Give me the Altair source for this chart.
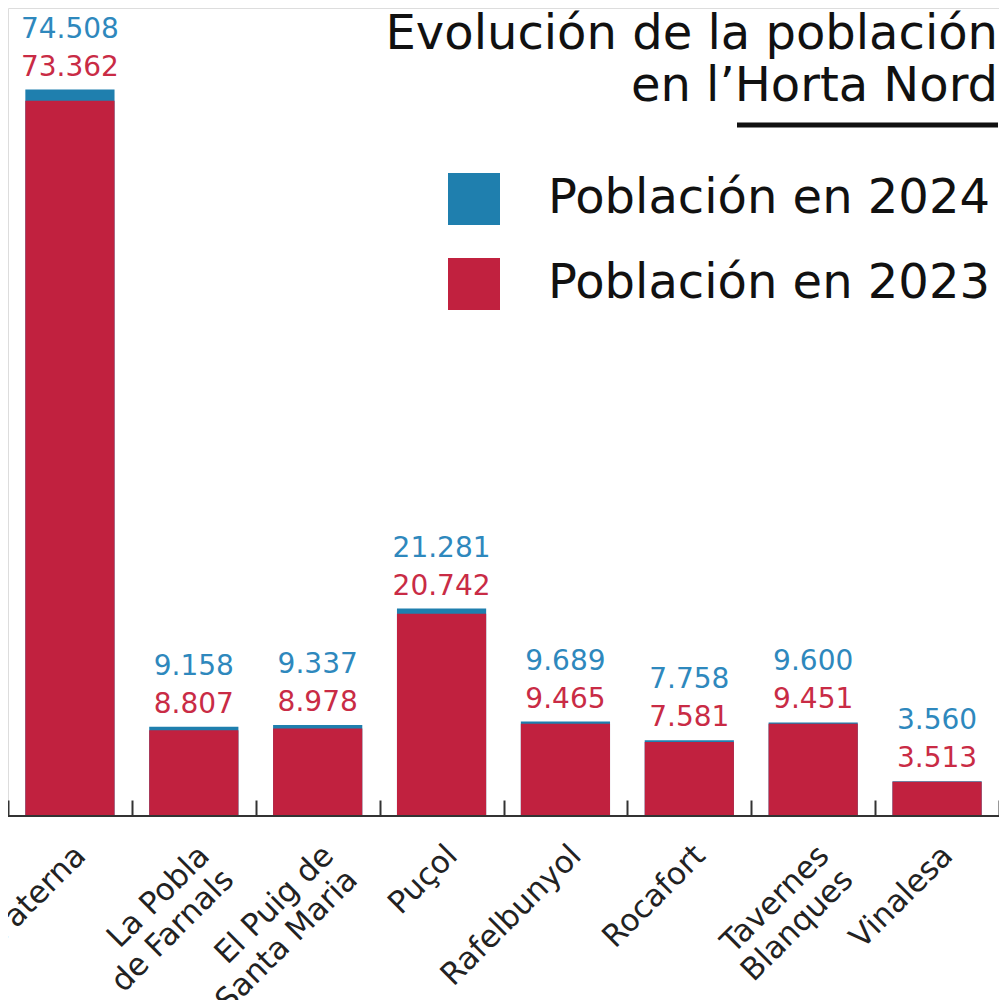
import altair as alt
import pandas as pd

municipios = ["Paterna", "La Pobla\nde Farnals", "El Puig de\nSanta Maria", "Puçol",
              "Rafelbunyol", "Rocafort", "Tavernes\nBlanques", "Vinalesa"]
poblacion_2023 = [73362, 8807, 8978, 20742, 9465, 7581, 9451, 3513]
poblacion_2024 = [74508, 9158, 9337, 21281, 9689, 7758, 9600, 3560]
series = ["Población en 2024", "Población en 2023"]
colores = ["#1f7fae", "#c1213f"]
titulo = ["Evolución de la población", "en l’Horta Nord"]

df = pd.DataFrame({"municipio": municipios, "p2023": poblacion_2023, "p2024": poblacion_2024})

FONT = "DejaVu Sans"

x = alt.X(
    "municipio:N", sort=None,
    scale=alt.Scale(paddingInner=0, paddingOuter=0),
    axis=alt.Axis(
        title=None, labelAngle=-45, labelAlign="right", labelBaseline="top",
        labelExpr="split(datum.label, '\\n')", labelFont=FONT, labelFontSize=31,
        labelLineHeight=34, labelColor="#222", labelPadding=24, labelLimit=400,
        domain=False, ticks=True, tickSize=16, tickWidth=2, tickColor="#333",
        tickBand="extent", offset=-16, zindex=1,
    ),
)
yscale = alt.Scale(domain=[0, 82870], nice=False)

base = alt.Chart(df)

bars = base.transform_fold(["p2024", "p2023"], as_=["serie", "valor"]).transform_calculate(
    nombre="datum.serie == 'p2024' ? 'Población en 2024' : 'Población en 2023'"
).mark_bar(width=alt.RelativeBandSize(0.72)).encode(
    x=x,
    y=alt.Y("valor:Q", scale=yscale, axis=None, stack=None),
    color=alt.Color(
        "nombre:N",
        scale=alt.Scale(domain=series, range=colores),
        legend=alt.Legend(
            title=None, orient="none", legendX=440, legendY=165, direction="vertical",
            symbolType="square", symbolSize=2704, symbolStrokeWidth=0, symbolOpacity=1,
            labelFont=FONT, labelFontSize=48, labelColor="#111", labelOffset=48,
            rowPadding=33, labelLimit=700, padding=0,
        ),
    ),
)

lbl24 = base.transform_calculate(
    t="replace(format(datum.p2024, ','), ',', '.')"
).mark_text(font=FONT, fontSize=28, color="#2e88bd", baseline="alphabetic", dy=-52).encode(
    x=x, y=alt.Y("p2024:Q", scale=yscale, axis=None), text="t:N"
)

lbl23 = base.transform_calculate(
    t="replace(format(datum.p2023, ','), ',', '.')"
).mark_text(font=FONT, fontSize=28, color="#c92b45", baseline="alphabetic", dy=-14).encode(
    x=x, y=alt.Y("p2024:Q", scale=yscale, axis=None), text="t:N"
)

baseline = alt.Chart(pd.DataFrame({"v": [0]})).mark_rule(color="#333", strokeWidth=2).encode(
    y=alt.Y("v:Q", scale=yscale, axis=None)
)

title = alt.Chart(pd.DataFrame({"a": [0]})).mark_text(
    text=titulo, font=FONT, fontSize=48, align="right", baseline="alphabetic",
    lineHeight=52, color="#111"
).encode(x=alt.value(990), y=alt.value(41))

underline = alt.Chart(pd.DataFrame({"a": [0]})).mark_rule(color="#111", strokeWidth=5).encode(
    x=alt.value(729), x2=alt.value(990), y=alt.value(117)
)

chart = alt.layer(bars, lbl24, lbl23, baseline, title, underline).properties(
    width=991, height=808,
    autosize=alt.AutoSizeParams(type="none"),
    padding={"left": 0, "top": 0, "right": 0, "bottom": 184},
).configure_view(stroke=None).configure(background="white")

chart.save("out.html", embed_options={"renderer": "svg", "actions": False})
